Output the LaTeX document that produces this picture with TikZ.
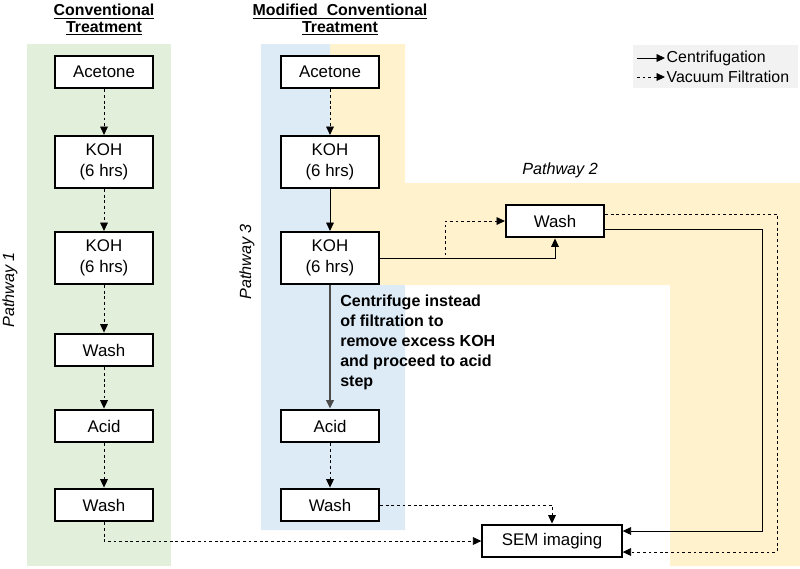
\documentclass[tikz,border=0pt]{standalone}
\usepackage{fontspec}
\setmainfont{Liberation Sans}
\usetikzlibrary{arrows.meta,positioning,calc}
\definecolor{pathgreen}{RGB}{226,239,218}
\definecolor{pathblue}{RGB}{221,235,247}
\definecolor{pathorange}{RGB}{255,242,204}
\definecolor{legendgray}{RGB}{242,242,242}

\tikzset{
  stepbox/.style={draw, line width=1.5pt, fill=white, minimum width=2.45cm, minimum height=0.82cm, align=center, inner sep=1pt, font=\fontsize{12}{14.5}\selectfont},
  kohbox/.style={stepbox, minimum height=1.3cm},
  centri/.style={-{Triangle[length=6pt,width=5.5pt]}, line width=0.6pt},
  vacuum/.style={centri, dash pattern=on 2pt off 2pt},
  pathlabel/.style={font=\fontsize{11.5}{14}\selectfont\itshape},
  heading/.style={align=center, font=\fontsize{11.3}{11.8}\selectfont\bfseries}
}

\begin{document}
\begin{tikzpicture}[x=0.025cm, y=-0.025cm]
				\useasboundingbox (0,0) rectangle (800,568);
				
				% Background bands for the three pathways
				\fill[pathgreen] (27,44) rectangle (171,566);
				\fill[pathorange] (330,44) -- (405,44) -- (405,183) -- (800,183) -- (800,566) -- (670,566) -- (670,285) -- (330,285) -- cycle;
				\fill[pathblue] (261,44) -- (330,44) -- (330,285) -- (405,285) -- (405,530) -- (261,530) -- cycle;
				
				% Headings
				\node[heading] (convtitle) at (104,20) {\underline{Conventional}\\\underline{Treatment}};
				\node[heading] (modtitle) at (340,20) {\underline{Modified\ \ Conventional}\\\underline{Treatment}};
				
				% Conventional treatment
				\node[stepbox] (acet1) at (104,72) {Acetone};
				\node[kohbox] (koh1) at (104,162) {KOH\\(6 hrs)};
				\node[kohbox] (koh2) at (104,258) {KOH\\(6 hrs)};
				\node[stepbox] (wash1) at (104,350) {Wash};
				\node[stepbox] (acid1) at (104,426) {Acid};
				\node[stepbox] (wash2) at (104,505) {Wash};
				
				% Modified conventional treatment
				\node[stepbox] (acet3) at (330,72) {Acetone};
				\node[kohbox] (koh3) at (330,162) {KOH\\(6 hrs)};
				\node[kohbox] (koh4) at (330,258) {KOH\\(6 hrs)};
				\node[stepbox] (acid3) at (330,426) {Acid};
				\node[stepbox] (wash3) at (330,505) {Wash};
				
				% Pathway 2 and imaging
				\node[stepbox] (wash4) at (555,221) {Wash};
				\node[stepbox, minimum width=3.48cm] (sem) at (552,541) {SEM imaging};
				
				% Pathway labels
				\node[pathlabel, rotate=90] (path1) at (10,290) {Pathway 1};
				\node[pathlabel, rotate=90] (path3) at (247,262) {Pathway 3};
				\node[pathlabel] (path2) at (560,170) {Pathway 2};
				
				% Conventional connections
				\draw[vacuum] (acet1) -- (koh1);
				\draw[vacuum] (koh1) -- (koh2);
				\draw[vacuum] (koh2) -- (wash1);
				\draw[vacuum] (wash1) -- (acid1);
				\draw[vacuum] (acid1) -- (wash2);
				\draw[vacuum] (wash2) |- (sem);
				
				% Modified connections
				\draw[vacuum] (acet3) -- (koh3);
				\draw[centri] (koh3) -- (koh4);
				\draw[centri, black!70, line width=1pt] (koh4) -- (acid3);
				\draw[vacuum] (acid3) -- (wash3);
				\draw[vacuum] (wash3) -| (sem);
				\node[anchor=north west, align=left, inner sep=0pt, font=\fontsize{11.4}{14.2}\selectfont\bfseries] (note) at (340,295)
				  {Centrifuge instead\\of filtration to\\remove excess KOH\\and proceed to acid\\step};
				
				% Pathway 2 connections
				\coordinate (split) at (445,258);
				\draw[centri] (koh4) -| (wash4);
				\draw[vacuum] (koh4.east) -- (split) |- (wash4.west);
				\coordinate (solidturn) at (762,531);
				\coordinate (dashturn) at (777,552);
				\draw[centri] ($(wash4.east)+(0,8)$) -| (solidturn) -- (sem.east |- solidturn);
				\draw[vacuum] ($(wash4.east)+(0,-7)$) -| (dashturn) -- (sem.east |- dashturn);
				
				% Legend
				\fill[legendgray] (633,45) rectangle (798,88);
				\coordinate (lc1) at (637,58);
				\coordinate (lc2) at (665,58);
				\coordinate (lv1) at (637,77);
				\coordinate (lv2) at (665,77);
				\draw[centri] (lc1) -- (lc2);
				\draw[vacuum] (lv1) -- (lv2);
				\node[right, inner sep=1pt, font=\fontsize{11.3}{13}\selectfont] (lctext) at (lc2) {Centrifugation};
				\node[right, inner sep=1pt, font=\fontsize{11.3}{13}\selectfont] (lvtext) at (lv2) {Vacuum Filtration};
			\end{tikzpicture}
\end{document}
